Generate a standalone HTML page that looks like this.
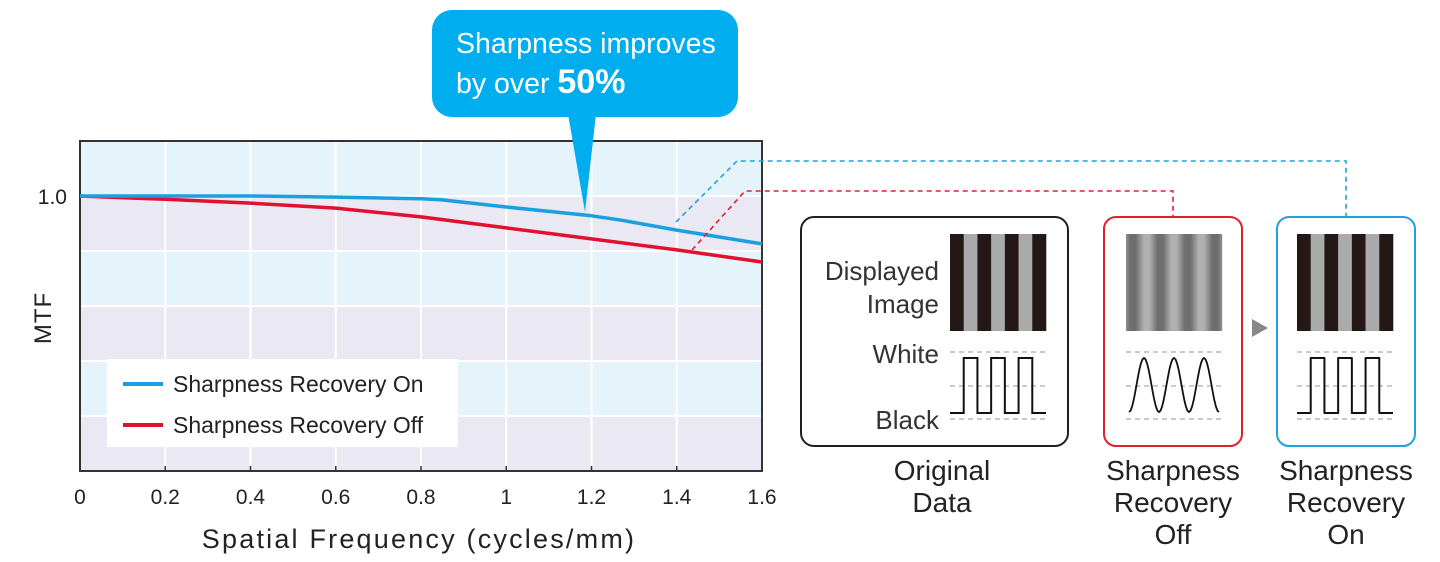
<!DOCTYPE html>
<html><head><meta charset="utf-8"><style>
html,body{margin:0;padding:0;background:#fff;width:1440px;height:562px;overflow:hidden}
svg{display:block;font-family:"Liberation Sans","DejaVu Sans",sans-serif}
</style></head><body>
<svg id="c" width="1440" height="562" viewBox="0 0 1440 562">
<g id="plot"></g>
<g id="right"></g>
</svg>
<script>
const xTicks=[0,0.2,0.4,0.6,0.8,1,1.2,1.4,1.6];
const xTickLabels=["0","0.2","0.4","0.6","0.8","1","1.2","1.4","1.6"];
const onX=[0,0.2,0.4,0.6,0.8,0.85,1.0,1.2,1.27,1.4,1.6];
const onY=[1.0,1.0,1.0,0.998,0.995,0.993,0.98,0.964,0.956,0.938,0.913];
const offX=[0,0.2,0.4,0.6,0.8,1.0,1.2,1.4,1.6];
const offY=[1.0,0.994,0.987,0.978,0.962,0.942,0.922,0.902,0.880];
const yBands=[1.1,1.0,0.9,0.8,0.7,0.6,0.5];

const NS="http://www.w3.org/2000/svg";
const X0=80,X1=762,Y0=141,Y1=471;
const xs=v=>X0+(v/1.6)*(X1-X0);
const ys=v=>196+(1.0-v)*550;
function mk(p,t,a){const e=document.createElementNS(NS,t);for(const k in a)e.setAttribute(k,a[k]);p.appendChild(e);return e;}
const plot=document.getElementById('plot'),R=document.getElementById('right');

for(let i=0;i<yBands.length-1;i++){
 const top=Math.max(Y0,ys(yBands[i])),bot=Math.min(Y1,ys(yBands[i+1]));
 const b=mk(plot,'rect',{x:X0,y:top,width:X1-X0,height:bot-top,fill:i%2===0?'#e5f3fb':'#e9e8f3'});
 
 
}
for(let i=1;i<yBands.length-1;i++){
 const l=mk(plot,'line',{x1:X0,x2:X1,y1:ys(yBands[i]),y2:ys(yBands[i]),stroke:'#fff','stroke-width':2});
 
 
}
xTicks.forEach((t,i)=>{
 if(i>0&&i<xTicks.length-1){
  const g=mk(plot,'line',{x1:xs(t),x2:xs(t),y1:Y0,y2:Y1,stroke:'#fff','stroke-width':2});
  
  
 }
 const tk=mk(plot,'line',{x1:xs(t),x2:xs(t),y1:Y1-5,y2:Y1,stroke:'#333','stroke-width':1.5});
 
 
 const tl=mk(plot,'text',{x:xs(t),y:504,'font-size':21,'text-anchor':'middle',fill:'#222'});
 tl.textContent=xTickLabels[i];
 
 
});
const fr=mk(plot,'rect',{x:X0,y:Y0,width:X1-X0,height:Y1-Y0,fill:'none',stroke:'#333','stroke-width':2});


const y1l=mk(plot,'text',{x:67,y:204,'font-size':21,'text-anchor':'end',fill:'#222'});y1l.textContent='1.0';


const yt=mk(plot,'text',{x:0,y:0,'font-size':24,'text-anchor':'middle',fill:'#222',transform:'translate(51,318) rotate(-90)','letter-spacing':'1'});yt.textContent='MTF';


const xt=mk(plot,'text',{x:419,y:548,'font-size':27,'text-anchor':'middle',fill:'#222','letter-spacing':'2.2'});xt.textContent='Spatial Frequency (cycles/mm)';



const dl1=mk(R,'polyline',{points:'676,222 737,161 1346,161 1346,217',fill:'none',stroke:'#1ea3dc','stroke-width':1.6,'stroke-dasharray':'5,4'});


const dl2=mk(R,'polyline',{points:'692,250 745,191 1173,191 1173,217',fill:'none',stroke:'#e0202e','stroke-width':1.6,'stroke-dasharray':'5,4'});



function series(X,Y,col,name){
 const p=mk(plot,'polyline',{points:X.map((x,i)=>xs(x)+','+ys(Y[i])).join(' '),fill:'none',stroke:col,'stroke-width':3.5,'stroke-linejoin':'round'});
 
 
}
series(offX,offY,'#e0102e','line-recovery-off');
series(onX,onY,'#1aa0e0','line-recovery-on');

const lg=mk(plot,'g',{});


mk(lg,'rect',{x:107,y:359,width:351,height:88,fill:'#fff'});
mk(lg,'line',{x1:123,x2:163,y1:384,y2:384,stroke:'#1aa0e0','stroke-width':4});
mk(lg,'line',{x1:123,x2:163,y1:425,y2:425,stroke:'#e0102e','stroke-width':4});
const la=mk(lg,'text',{x:173,y:392,'font-size':23,fill:'#222'});la.textContent='Sharpness Recovery On';


const lb=mk(lg,'text',{x:173,y:433,'font-size':23,fill:'#222'});lb.textContent='Sharpness Recovery Off';



const co=mk(plot,'g',{});


mk(co,'rect',{x:432,y:10,width:306,height:107,rx:20,fill:'#00aeef'});
mk(co,'polygon',{points:'568,114 596,114 585,212',fill:'#00aeef'});
const c1=mk(co,'text',{x:456,y:53,'font-size':28.5,fill:'#fff'});c1.textContent='Sharpness improves';
const c2=mk(co,'text',{x:456,y:93,'font-size':28.5,fill:'#fff'});c2.textContent='by over ';
const c3=mk(c2,'tspan',{'font-weight':'bold','font-size':34});c3.textContent='50%';

function stripes(x,y,dark,light){
 const w=96/7;
 for(let i=0;i<7;i++){
  mk(R,'rect',{x:x+i*w,y:y,width:w+0.3,height:97,fill:i%2===0?dark:light});
 }
}
function dashes(x){[352,386,419].forEach(yy=>mk(R,'line',{x1:x,x2:x+96,y1:yy,y2:yy,stroke:'#aaa','stroke-width':1.3,'stroke-dasharray':'5,4'}));}
function square(x,rounded){
 const w=96/7;let d=`M${x},413`;
 for(let i=0;i<7;i++){
  const xx=x+(i+1)*w;
  if(i%2===1){d+=` L${x+i*w},358 L${xx},358 L${xx},413`;}else d+=` L${xx},413`;
 }
 mk(R,'path',{d:d,fill:'none',stroke:'#111','stroke-width':2,'stroke-linejoin':rounded?'round':'miter'});
}
const b1=mk(R,'rect',{x:801,y:217,width:267,height:229,rx:13,fill:'#fff',stroke:'#231f20','stroke-width':2});


stripes(950,234,'#231815','#aaa');
dashes(950);square(950,false);
[['Displayed',280],['Image',313],['White',363],['Black',429]].forEach(([t,yy])=>{const e=mk(R,'text',{x:939,y:yy,'font-size':26,'text-anchor':'end',fill:'#333'});e.textContent=t;});
const b2=mk(R,'rect',{x:1104,y:217,width:138,height:229,rx:12,fill:'#fff',stroke:'#e0202e','stroke-width':2});


// blurred stripes: 1px columns
for(let i=0;i<96;i++){
 const ph=(i+0.5)/(96/7);
 const idx=Math.floor(ph), fr2=ph-idx;
 // smooth stripe profile
 const base=idx%2===0?0:1;
 const edge=Math.min(fr2,1-fr2);
 let v=base;
 if(edge<0.3){const s=0.5+0.5*(edge/0.3);v=base*s+(1-base)*(1-s);}
 const g=Math.round(110+v*66);
 mk(R,'rect',{x:1126+i,y:234,width:1.2,height:97,fill:`rgb(${g},${g},${g})`});
}
dashes(1126);
let sd='';for(let i=0;i<=60;i++){const t=i/60;const xx=1129+t*90;const yy=385-27*Math.cos(t*6*Math.PI+Math.PI);sd+=(i?' L':'M')+xx.toFixed(1)+','+yy.toFixed(1);}
mk(R,'path',{d:sd,fill:'none',stroke:'#111','stroke-width':1.8});
mk(R,'polygon',{points:'1252,319 1252,337 1268,328',fill:'#888'});
const b3=mk(R,'rect',{x:1277,y:217,width:138,height:229,rx:12,fill:'#fff',stroke:'#1ea3dc','stroke-width':2});


stripes(1297,234,'#231815','#aaa');
dashes(1297);square(1297,true);
[[942,['Original','Data']],[1173,['Sharpness','Recovery','Off']],[1346,['Sharpness','Recovery','On']]].forEach(([cx,ls])=>{
 ls.forEach((t,i)=>{const e=mk(R,'text',{x:cx,y:480+i*32,'font-size':28,'text-anchor':'middle',fill:'#222'});e.textContent=t;
 
 });
});
</script>
</body></html>
